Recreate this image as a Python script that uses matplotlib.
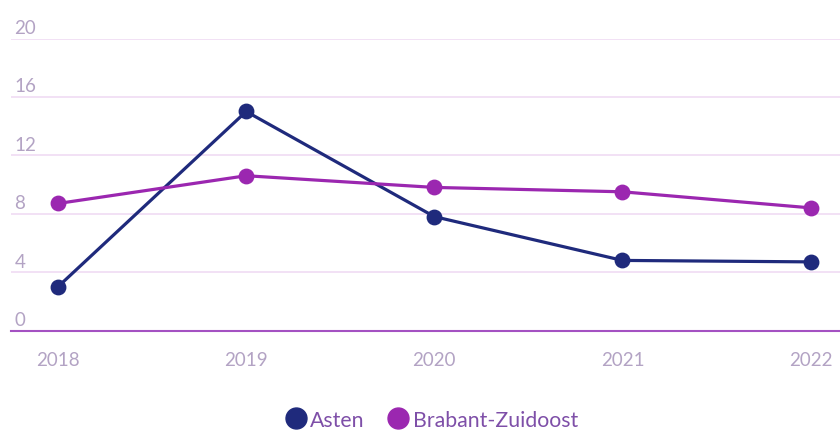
import matplotlib.pyplot as plt
from matplotlib.transforms import blended_transform_factory

years = [2018, 2019, 2020, 2021, 2022]
asten = [3.0, 15.0, 7.8, 4.8, 4.7]
brabant = [8.7, 10.6, 9.8, 9.5, 8.4]
yticks = [0, 4, 8, 12, 16, 20]

col_asten = '#1f2a7c'
col_brabant = '#9b27b0'
col_text = '#b3a3c4'
col_grid = '#f0dcf3'

plt.rcParams['font.family'] = ['Lato', 'DejaVu Sans']

fig = plt.figure(figsize=(8.4, 4.31), dpi=100)
ax = fig.add_axes([11 / 840, 1 - 331.5 / 431, 1 - 11 / 840, (331.5 - 39.5) / 431])

ax.plot(years, asten, color=col_asten, lw=2.3, marker='o', ms=10.4, label='Asten', zorder=3)
ax.plot(years, brabant, color=col_brabant, lw=2.3, marker='o', ms=10.4, label='Brabant-Zuidoost', zorder=3)

ax.set_xlim(2017.75, 2022.156)
ax.set_ylim(0, 20)
ax.set_yticks(yticks)
ax.set_yticklabels([])
ax.tick_params(axis='y', length=0)
ax.grid(axis='y', color=col_grid, lw=1.2)
ax.set_axisbelow(True)

ax.set_xticks(years)
ax.tick_params(axis='x', length=0, pad=14.5, labelsize=13.5, labelcolor=col_text)

for s in ['top', 'right', 'left']:
    ax.spines[s].set_visible(False)
ax.spines['bottom'].set_color('#a451c2')
ax.spines['bottom'].set_linewidth(1.5)

# y labels sit inside the plot, above the grid lines
tr = blended_transform_factory(ax.transAxes, ax.transData)
for v in yticks:
    ax.text(0.004, v + 0.38, str(v), transform=tr, ha='left', va='baseline',
            fontsize=13.5, color=col_text)

fig.legend(loc='center', bbox_to_anchor=(0.514, 0.024), ncol=2, frameon=False,
           fontsize=15.3, handlelength=1.0, handletextpad=0.19, columnspacing=1.08,
           markerscale=1.45, labelcolor='#7e4fa8')
for line in fig.legends[0].get_lines():
    line.set_linestyle('')

fig.savefig('out.png', dpi=100)
